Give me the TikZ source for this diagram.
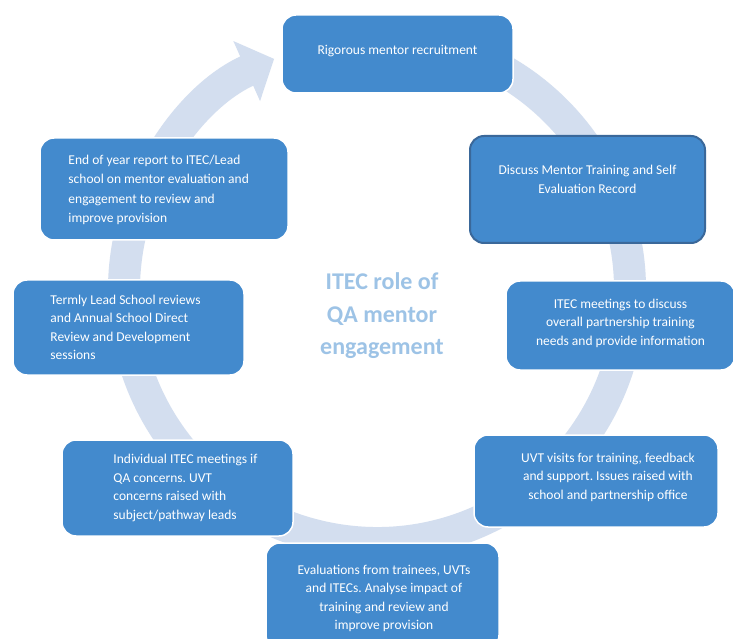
\documentclass[tikz,border=0pt]{standalone}
\usepackage{fontspec}
\setmainfont{Carlito}
\frenchspacing
\usetikzlibrary{
  arrows.meta,
  positioning
}

\definecolor{boxblue}{HTML}{438ACD}
\definecolor{boxedge}{HTML}{3A689A}
\definecolor{ringblue}{HTML}{D3DEEF}
\definecolor{titleblue}{HTML}{9DC3E6}

\begin{document}
\begin{tikzpicture}[x=1pt,y=1pt,
  stagebox/.style={rectangle,rounded corners=14pt,fill=boxblue,draw=white,
    line width=1.5pt,inner sep=0pt},
  stagetext/.style={text=white,inner sep=0pt,
    font=\fontsize{13.5}{18.5}\selectfont}]
  \path[use as bounding box] (0,0) rectangle (733,638);
  \clip (0,0) rectangle (733,638);
  \fill[white] (0,0) rectangle (733,638);

  % the cycle arrow behind the boxes
  \coordinate (hub) at (377,348);
  \draw[ringblue,line width=32pt,-{Triangle[length=30pt,width=64pt]}]
    ([shift={(80:253pt)}]hub) arc[start angle=80,end angle=-246,radius=253pt];

  \node[font=\bfseries\fontsize{24}{32.5}\selectfont,text=titleblue,align=center]
    (title) at (382,322) {ITEC role of\\QA mentor\\engagement};

  \node[stagebox,minimum width=231pt,minimum height=78pt] (recruit) at (397.5,584) {};
  \node[stagetext] (recruit-text) at ([yshift=3pt]recruit.center)
    {Rigorous mentor recruitment};

  \node[stagebox,draw=boxedge,line width=2pt,minimum width=235pt,minimum height=107pt]
    (discuss) at (587.5,448.5) {};
  \node[stagetext,align=center] (discuss-text) at ([yshift=10pt]discuss.center)
    {Discuss Mentor Training and Self\\Evaluation Record};

  \node[stagebox,minimum width=229pt,minimum height=89pt] (meetings) at (620.5,312.5) {};
  \node[stagetext,align=center] (meetings-text) at ([yshift=2.5pt]meetings.center)
    {ITEC meetings to discuss\\overall partnership training\\needs and provide information};

  \node[stagebox,minimum width=244pt,minimum height=92pt] (visits) at (596,157) {};
  \node[stagetext,align=center] (visits-text) at ([xshift=12pt,yshift=4pt]visits.center)
    {UVT visits for training, feedback\\and support. Issues raised with\\school and partnership office};

  \node[stagebox,minimum width=233pt,minimum height=106pt] (evaluations) at (382.5,42) {};
  \node[stagetext,align=center] (evaluations-text) at (384,39.5)
    {Evaluations from trainees, UVTs\\and ITECs. Analyse impact of\\training and review and\\improve provision};

  \node[stagebox,minimum width=231pt,minimum height=96pt] (individual) at (177.5,150) {};
  \node[stagetext,align=left,anchor=west] (individual-text) at ([xshift=52pt]individual.west)
    {Individual ITEC meetings if\\QA concerns. UVT\\concerns raised with\\subject/pathway leads};

  \node[stagebox,minimum width=231pt,minimum height=95pt] (termly) at (128.5,310.5) {};
  \node[stagetext,align=left,anchor=west] (termly-text) at ([xshift=38pt]termly.west)
    {Termly Lead School reviews\\and Annual School Direct\\Review and Development\\sessions};

  \node[stagebox,minimum width=248pt,minimum height=102pt] (endyear) at (164,449) {};
  \node[stagetext,align=left,anchor=west,font=\fontsize{13.5}{19.2}\selectfont]
    (endyear-text) at ([xshift=29pt,yshift=-1pt]endyear.west)
    {End of year report to ITEC/Lead\\school on mentor evaluation and\\engagement to review and\\improve provision};
\end{tikzpicture}
\end{document}
